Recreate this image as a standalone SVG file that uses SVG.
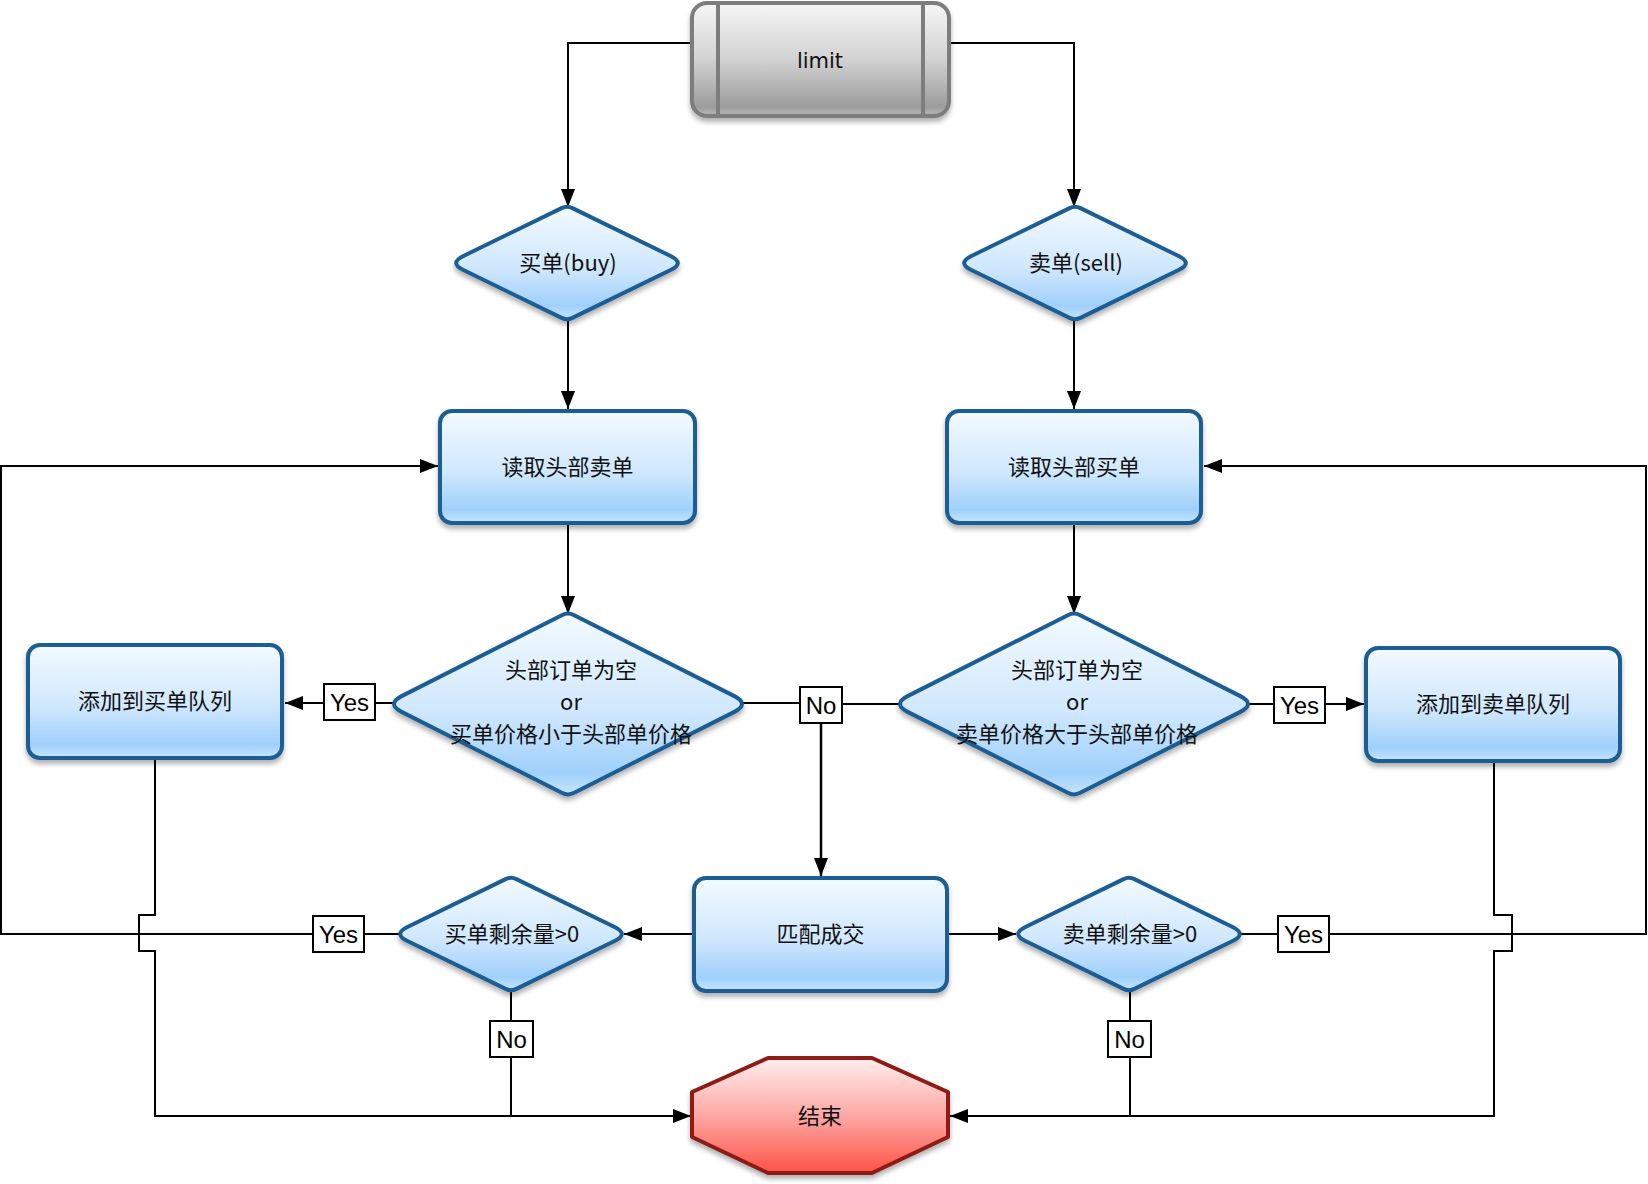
<svg xmlns="http://www.w3.org/2000/svg" width="1648" height="1184" viewBox="0 0 1648 1184">
<defs>
<linearGradient id="gBlue" x1="0" y1="0" x2="0" y2="1">
<stop offset="0" stop-color="#f3faff"/>
<stop offset="0.55" stop-color="#cfe7fd"/>
<stop offset="0.88" stop-color="#9fd0fb"/>
<stop offset="1" stop-color="#c6e4fd"/>
</linearGradient>
<linearGradient id="gGray" x1="0" y1="0" x2="0" y2="1">
<stop offset="0" stop-color="#f6f6f6"/>
<stop offset="0.5" stop-color="#d2d2d2"/>
<stop offset="0.92" stop-color="#9c9c9c"/>
<stop offset="1" stop-color="#b8b8b8"/>
</linearGradient>
<linearGradient id="gRed" x1="0" y1="0" x2="0" y2="1">
<stop offset="0" stop-color="#ffeeee"/>
<stop offset="0.5" stop-color="#fca8a4"/>
<stop offset="1" stop-color="#fd5247"/>
</linearGradient>
<filter id="sh" x="-10%" y="-10%" width="120%" height="130%">
<feDropShadow dx="0" dy="4" stdDeviation="2.5" flood-color="#000" flood-opacity="0.3"/>
</filter>
<marker id="arr" markerUnits="userSpaceOnUse" markerWidth="18" markerHeight="14" refX="18" refY="7" orient="auto">
<path d="M0,0 L18,7 L0,14 Z" fill="#000"/>
</marker>
<path id="dS" d="M -103.6,-7 L -5.4,-54.9 Q 0,-57.5 5.4,-54.9 L 103.6,-7 Q 118,0 103.6,7 L 5.4,54.9 Q 0,57.5 -5.4,54.9 L -103.6,7 Q -118,0 -103.6,-7 Z"/>
<path id="dL" d="M -165.9,-8.1 L -6.2,-88.8 Q 0,-92 6.2,-88.8 L 165.9,-8.1 Q 182,0 165.9,8.1 L 6.2,88.8 Q 0,92 -6.2,88.8 L -165.9,8.1 Q -182,0 -165.9,-8.1 Z"/>
</defs>
<style>
.blue{fill:url(#gBlue);stroke:#1c5d94;stroke-width:4;filter:url(#sh)}
.gray{fill:url(#gGray);stroke:#7d7d7d;stroke-width:4;filter:url(#sh)}
.red{fill:url(#gRed);stroke:#8e1c12;stroke-width:4;stroke-linejoin:round;filter:url(#sh)}
.conn path{fill:none;stroke:#000;stroke-width:2}
.arrow{marker-end:url(#arr)}
.lbl rect{fill:#fff;stroke:#000;stroke-width:2}
.lbl text{font-family:"Liberation Sans",Arial,sans-serif;font-size:24px;fill:#000;text-anchor:middle;dominant-baseline:central}
.t{font-family:"Noto Sans CJK SC","Noto Sans",sans-serif;font-size:22px;fill:#111;text-anchor:middle;dominant-baseline:central}
.tl{font-family:"DejaVu Sans",sans-serif;font-size:21px;fill:#111;text-anchor:middle;dominant-baseline:central}
</style>
<rect width="1648" height="1184" fill="#fff"/>

<g id="connectors" class="conn">
<path class="arrow" d="M692,43 H568 V207"/>
<path class="arrow" d="M949,43 H1074 V207"/>
<path class="arrow" d="M568,319 V409"/>
<path class="arrow" d="M1074,319 V409"/>
<path class="arrow" d="M568,525 V614"/>
<path class="arrow" d="M1074,525 V614"/>
<path d="M394,703 H375"/>
<path class="arrow" d="M324,703 H285"/>
<path d="M742,703 H800"/>
<path d="M842,704 H900"/>
<path class="arrow" d="M821,723 V876" style="stroke-width:2.5"/>
<path d="M1248,704 H1274"/>
<path class="arrow" d="M1325,704 H1364"/>
<path class="arrow" d="M693,934 H624"/>
<path class="arrow" d="M948,934 H1016"/>
<path d="M400,934 H364"/>
<path class="arrow" d="M313,934 H1 V466 H438"/>
<path d="M511,990 V1021"/>
<path d="M511,1057 V1116"/>
<path class="arrow" d="M155,760 V915 H139 V951 H155 V1116 H691"/>
<path d="M1240,934 H1278"/>
<path class="arrow" d="M1329,934 H1646 V466 H1204"/>
<path d="M1130,990 V1021"/>
<path d="M1130,1057 V1116"/>
<path class="arrow" d="M1494,763 V915 H1512 V951 H1494 V1116 H950"/>
</g>

<g id="node-limit">
<rect class="gray" x="692" y="3" width="257" height="113" rx="15"/>
<path d="M718,4 V115 M923,4 V115" stroke="#7d7d7d" stroke-width="4" fill="none"/>
<text class="tl" x="820" y="61">limit</text>
</g>

<g id="node-buy">
<use href="#dS" class="blue" transform="translate(567,263)"/>
<text class="t" x="568" y="261">买单(buy)</text>
</g>

<g id="node-sell">
<use href="#dS" class="blue" transform="translate(1075,263)"/>
<text class="t" x="1076" y="261">卖单(sell)</text>
</g>

<g id="node-read-sell">
<rect class="blue" x="440" y="411" width="255" height="112" rx="12"/>
<text class="t" x="567.5" y="465">读取头部卖单</text>
</g>

<g id="node-read-buy">
<rect class="blue" x="947" y="411" width="254" height="112" rx="12"/>
<text class="t" x="1074" y="465">读取头部买单</text>
</g>

<g id="node-cond-buy">
<use href="#dL" class="blue" transform="translate(568,704)"/>
<text class="t" x="571" y="668">头部订单为空</text>
<text class="t" x="571" y="700">or</text>
<text class="t" x="571" y="732">买单价格小于头部单价格</text>
</g>

<g id="node-cond-sell">
<use href="#dL" class="blue" transform="translate(1074,704)"/>
<text class="t" x="1077" y="668">头部订单为空</text>
<text class="t" x="1077" y="700">or</text>
<text class="t" x="1077" y="732">卖单价格大于头部单价格</text>
</g>

<g id="node-add-buy">
<rect class="blue" x="28" y="645" width="254" height="113" rx="12"/>
<text class="t" x="155" y="699">添加到买单队列</text>
</g>

<g id="node-add-sell">
<rect class="blue" x="1366" y="648" width="254" height="113" rx="12"/>
<text class="t" x="1493" y="702">添加到卖单队列</text>
</g>

<g id="node-match">
<rect class="blue" x="694" y="878" width="253" height="113" rx="12"/>
<text class="t" x="820.5" y="932">匹配成交</text>
</g>

<g id="node-buy-left">
<use href="#dS" class="blue" transform="translate(511,934)"/>
<text class="t" x="512" y="932">买单剩余量&gt;0</text>
</g>

<g id="node-sell-left">
<use href="#dS" class="blue" transform="translate(1129,934)"/>
<text class="t" x="1130" y="932">卖单剩余量&gt;0</text>
</g>

<g id="node-end">
<path class="red" d="M768,1058 H872 L948,1092 V1137 L872,1173 H768 L692,1137 V1092 Z"/>
<text class="t" x="820" y="1114">结束</text>
</g>

<g id="labels" class="lbl">
<rect x="324" y="684" width="51" height="36"/><text x="349.5" y="702">Yes</text>
<rect x="800" y="687" width="42" height="36"/><text x="821" y="705">No</text>
<rect x="1274" y="687" width="51" height="36"/><text x="1299.5" y="705">Yes</text>
<rect x="313" y="916" width="51" height="36"/><text x="338.5" y="934">Yes</text>
<rect x="490" y="1021" width="43" height="36"/><text x="511.5" y="1039">No</text>
<rect x="1278" y="916" width="51" height="36"/><text x="1303.5" y="934">Yes</text>
<rect x="1108" y="1021" width="43" height="36"/><text x="1129.5" y="1039">No</text>
</g>
</svg>
